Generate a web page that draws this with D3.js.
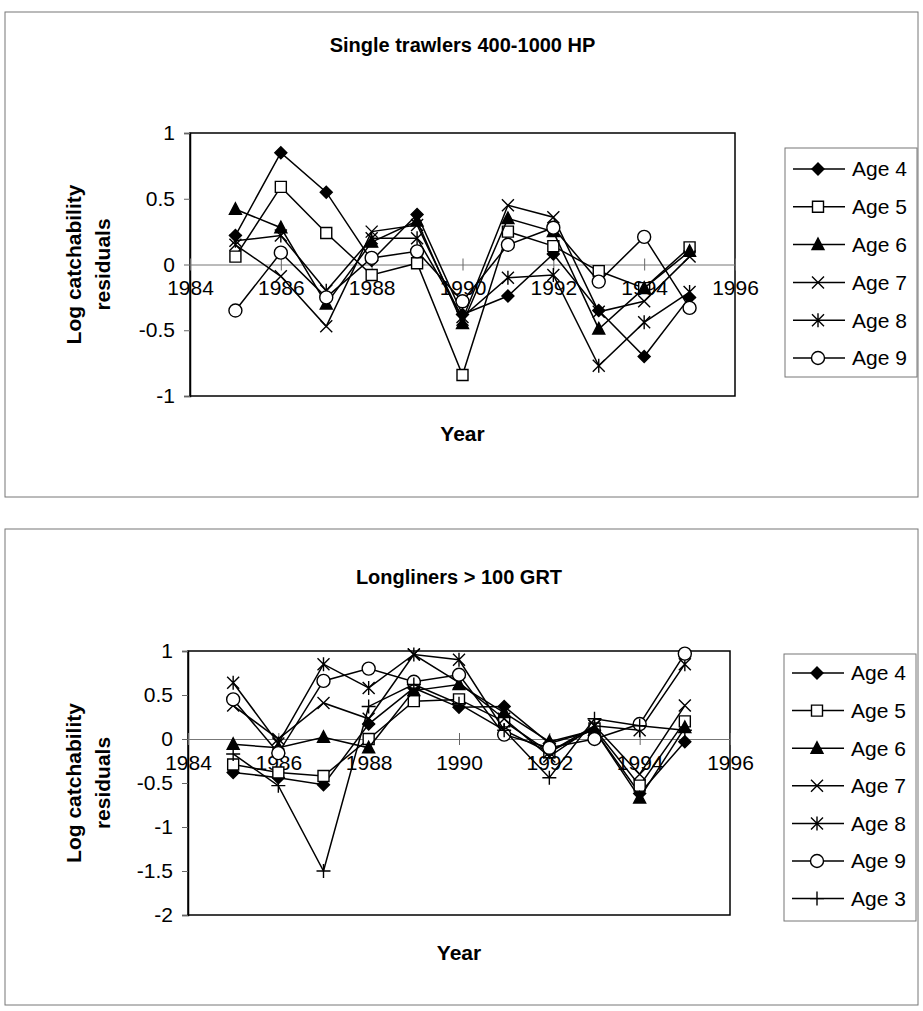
<!DOCTYPE html>
<html>
<head>
<meta charset="utf-8">
<script src="https://cdn.jsdelivr.net/npm/d3@7"></script>
<style>
    body { margin: 0; background: #fff; }
    text { font-family: "Liberation Sans", Arial, sans-serif; fill: #000; }
    .title, .axtitle { font-weight: bold; }
</style>
</head>
<body>
<script>
// years on the x axis (data points) and axis ticks
var years = [1985, 1986, 1987, 1988, 1989, 1990, 1991, 1992, 1993, 1994, 1995];
var xTicks = [1984, 1986, 1988, 1990, 1992, 1994, 1996];

// single trawlers 400-1000 HP
var trawlAge4 = [0.22, 0.85, 0.55, 0.03, 0.38, -0.38, -0.24, 0.08, -0.35, -0.70, -0.25];
var trawlAge5 = [0.06, 0.59, 0.24, -0.08, 0.01, -0.84, 0.25, 0.14, -0.05, -0.18, 0.13];
var trawlAge6 = [0.42, 0.28, -0.30, 0.17, 0.33, -0.45, 0.35, 0.25, -0.49, -0.18, 0.10];
var trawlAge7 = [0.15, -0.09, -0.47, 0.25, 0.30, -0.42, 0.45, 0.36, -0.36, -0.28, 0.06];
var trawlAge8 = [0.18, 0.22, -0.20, 0.20, 0.20, -0.40, -0.10, -0.08, -0.77, -0.44, -0.21];
var trawlAge9 = [-0.35, 0.09, -0.25, 0.05, 0.10, -0.28, 0.15, 0.28, -0.13, 0.21, -0.33];
var trawlTicks = [1, 0.5, 0, -0.5, -1];

// longliners > 100 GRT
var longAge4 = [-0.38, -0.44, -0.52, 0.17, 0.58, 0.36, 0.37, -0.05, 0.10, -0.62, -0.03];
var longAge5 = [-0.29, -0.38, -0.42, 0.00, 0.43, 0.45, 0.20, -0.15, 0.12, -0.53, 0.20];
var longAge6 = [-0.06, -0.10, 0.02, -0.10, 0.55, 0.62, 0.30, -0.03, 0.10, -0.67, 0.13];
var longAge7 = [0.38, 0.00, 0.41, 0.23, 0.96, 0.64, 0.23, -0.20, 0.15, -0.40, 0.38];
var longAge8 = [0.64, -0.05, 0.85, 0.58, 0.96, 0.90, 0.10, -0.15, 0.15, 0.10, 0.85];
var longAge9 = [0.45, -0.16, 0.66, 0.80, 0.65, 0.73, 0.05, -0.10, 0.00, 0.17, 0.97];
var longAge3 = [-0.17, -0.53, -1.50, 0.37, 0.62, 0.40, 0.10, -0.44, 0.23, 0.15, 0.10];
var longTicks = [1, 0.5, 0, -0.5, -1, -1.5, -2];

// marker paths, centred on 0,0
function markerPath(kind) {
    switch (kind) {
        case "diamond": return "M0,-6L6,0L0,6L-6,0Z";
        case "square": return "M-5.5,-5.5H5.5V5.5H-5.5Z";
        case "triangle": return "M0,-6.5L6,5L-6,5Z";
        case "x": return "M-6,-6L6,6M6,-6L-6,6";
        case "asterisk": return "M-6,-6L6,6M6,-6L-6,6M0,-7V7";
        case "circle": return "M6.5,0A6.5,6.5 0 1,1 -6.5,0A6.5,6.5 0 1,1 6.5,0Z";
        case "plus": return "M-7,0H7M0,-7V7";
    }
}
function markerFill(kind) {
    if (kind == "diamond" || kind == "triangle") return "#000";
    if (kind == "square" || kind == "circle") return "#fff";
    return "none";
}

// plain hyphen for negatives, like the original
function fmtTick(d) { return String(d); }

var svg = d3.select("body").append("svg")
    .attr("width", 923)
    .attr("height", 1011);

function drawPanel(cfg) {
    var g = svg.append("g");

    // panel frame
    g.append("rect")
        .attr("x", 5).attr("y", cfg.top)
        .attr("width", 913).attr("height", cfg.bottom - cfg.top)
        .attr("fill", "none")
        .attr("stroke", "#777")
        .attr("stroke-width", 1);

    var x = d3.scaleLinear().domain([1984, 1996]).range([cfg.left, cfg.right]);
    var y = d3.scaleLinear().domain(cfg.yDomain).range([cfg.plotBottom, cfg.plotTop]);

    // title
    g.append("text")
        .attr("class", "title")
        .attr("x", (cfg.left + cfg.right) / 2)
        .attr("y", cfg.titleY)
        .attr("text-anchor", "middle")
        .style("font-size", "20px")
        .text(cfg.title);

    // plot box
    g.append("rect")
        .attr("x", cfg.left).attr("y", cfg.plotTop)
        .attr("width", cfg.right - cfg.left).attr("height", cfg.plotBottom - cfg.plotTop)
        .attr("fill", "none")
        .attr("stroke", "#000")
        .attr("stroke-width", 1.5);

    // y axis
    var yAxis = g.append("g")
        .attr("transform", "translate(" + cfg.left + ",0)")
        .call(d3.axisLeft(y).tickValues(cfg.ticks).tickSize(6).tickPadding(9).tickFormat(fmtTick));
    yAxis.select(".domain").attr("stroke", "#000").attr("stroke-width", 1.5);
    yAxis.selectAll(".tick line").attr("stroke", "#666");
    yAxis.selectAll("text")
        .style("font-size", "21px")
        .style("font-family", "Liberation Sans, Arial, sans-serif");

    // x axis crossing at zero
    var xAxis = g.append("g")
        .attr("transform", "translate(0," + y(0) + ")")
        .call(d3.axisBottom(x).tickValues(xTicks).tickSizeInner(6).tickSizeOuter(0).tickPadding(10).tickFormat(fmtTick));
    xAxis.select(".domain").attr("stroke", "#777").attr("stroke-width", 1);
    xAxis.selectAll(".tick line").attr("stroke", "#666").attr("y1", -6);
    xAxis.selectAll("text")
        .style("font-size", "21px")
        .style("font-family", "Liberation Sans, Arial, sans-serif");

    // axis titles
    g.append("text")
        .attr("class", "axtitle")
        .attr("transform", "translate(" + 81 + "," + ((cfg.plotTop + cfg.plotBottom) / 2) + ") rotate(-90)")
        .attr("text-anchor", "middle")
        .style("font-size", "21px")
        .text("Log catchability");
    g.append("text")
        .attr("class", "axtitle")
        .attr("transform", "translate(" + 110 + "," + ((cfg.plotTop + cfg.plotBottom) / 2) + ") rotate(-90)")
        .attr("text-anchor", "middle")
        .style("font-size", "21px")
        .text("residuals");
    g.append("text")
        .attr("class", "axtitle")
        .attr("x", (cfg.left + cfg.right) / 2)
        .attr("y", cfg.yearY)
        .attr("text-anchor", "middle")
        .style("font-size", "21px")
        .text("Year");

    // series lines and markers
    var line = d3.line()
        .x(function (d) { return x(d.year); })
        .y(function (d) { return y(d.value); });

    cfg.series.forEach(function (s) {
        var pts = years.map(function (yr, i) { return { year: yr, value: s.values[i] }; });
        g.append("path")
            .datum(pts)
            .attr("d", line)
            .attr("fill", "none")
            .attr("stroke", "#000")
            .attr("stroke-width", 1.5);
        g.append("g").selectAll("path")
            .data(pts)
            .enter().append("path")
            .attr("transform", function (d) { return "translate(" + x(d.year) + "," + y(d.value) + ")"; })
            .attr("d", markerPath(s.marker))
            .attr("fill", markerFill(s.marker))
            .attr("stroke", "#000")
            .attr("stroke-width", 1.4);
    });

    // legend
    var lg = g.append("g");
    lg.append("rect")
        .attr("x", cfg.legX).attr("y", cfg.legTop)
        .attr("width", 132).attr("height", cfg.legBottom - cfg.legTop)
        .attr("fill", "none")
        .attr("stroke", "#777")
        .attr("stroke-width", 1);
    cfg.series.forEach(function (s, i) {
        var ly = cfg.legFirst + i * cfg.legStep;
        lg.append("line")
            .attr("x1", cfg.legX + 8).attr("x2", cfg.legX + 60)
            .attr("y1", ly).attr("y2", ly)
            .attr("stroke", "#000").attr("stroke-width", 1.5);
        lg.append("path")
            .attr("transform", "translate(" + (cfg.legX + 33) + "," + ly + ")")
            .attr("d", markerPath(s.marker))
            .attr("fill", markerFill(s.marker))
            .attr("stroke", "#000")
            .attr("stroke-width", 1.4);
        lg.append("text")
            .attr("x", cfg.legX + 67)
            .attr("y", ly)
            .attr("dy", "0.35em")
            .style("font-size", "21px")
            .text(s.name);
    });
}

drawPanel({
    title: "Single trawlers 400-1000 HP",
    top: 12, bottom: 497,
    titleY: 52,
    left: 190, right: 735,
    plotTop: 133, plotBottom: 396,
    yDomain: [-1, 1],
    ticks: trawlTicks,
    yearY: 441,
    legX: 785, legTop: 148, legBottom: 377, legFirst: 169, legStep: 37.8,
    series: [
        { name: "Age 4", marker: "diamond", values: trawlAge4 },
        { name: "Age 5", marker: "square", values: trawlAge5 },
        { name: "Age 6", marker: "triangle", values: trawlAge6 },
        { name: "Age 7", marker: "x", values: trawlAge7 },
        { name: "Age 8", marker: "asterisk", values: trawlAge8 },
        { name: "Age 9", marker: "circle", values: trawlAge9 }
    ]
});

drawPanel({
    title: "Longliners > 100 GRT",
    top: 529, bottom: 1005,
    titleY: 584,
    left: 188, right: 730,
    plotTop: 651, plotBottom: 915,
    yDomain: [-2, 1],
    ticks: longTicks,
    yearY: 960,
    legX: 784, legTop: 654, legBottom: 921, legFirst: 673, legStep: 37.6,
    series: [
        { name: "Age 4", marker: "diamond", values: longAge4 },
        { name: "Age 5", marker: "square", values: longAge5 },
        { name: "Age 6", marker: "triangle", values: longAge6 },
        { name: "Age 7", marker: "x", values: longAge7 },
        { name: "Age 8", marker: "asterisk", values: longAge8 },
        { name: "Age 9", marker: "circle", values: longAge9 },
        { name: "Age 3", marker: "plus", values: longAge3 }
    ]
});
</script>
</body>
</html>
